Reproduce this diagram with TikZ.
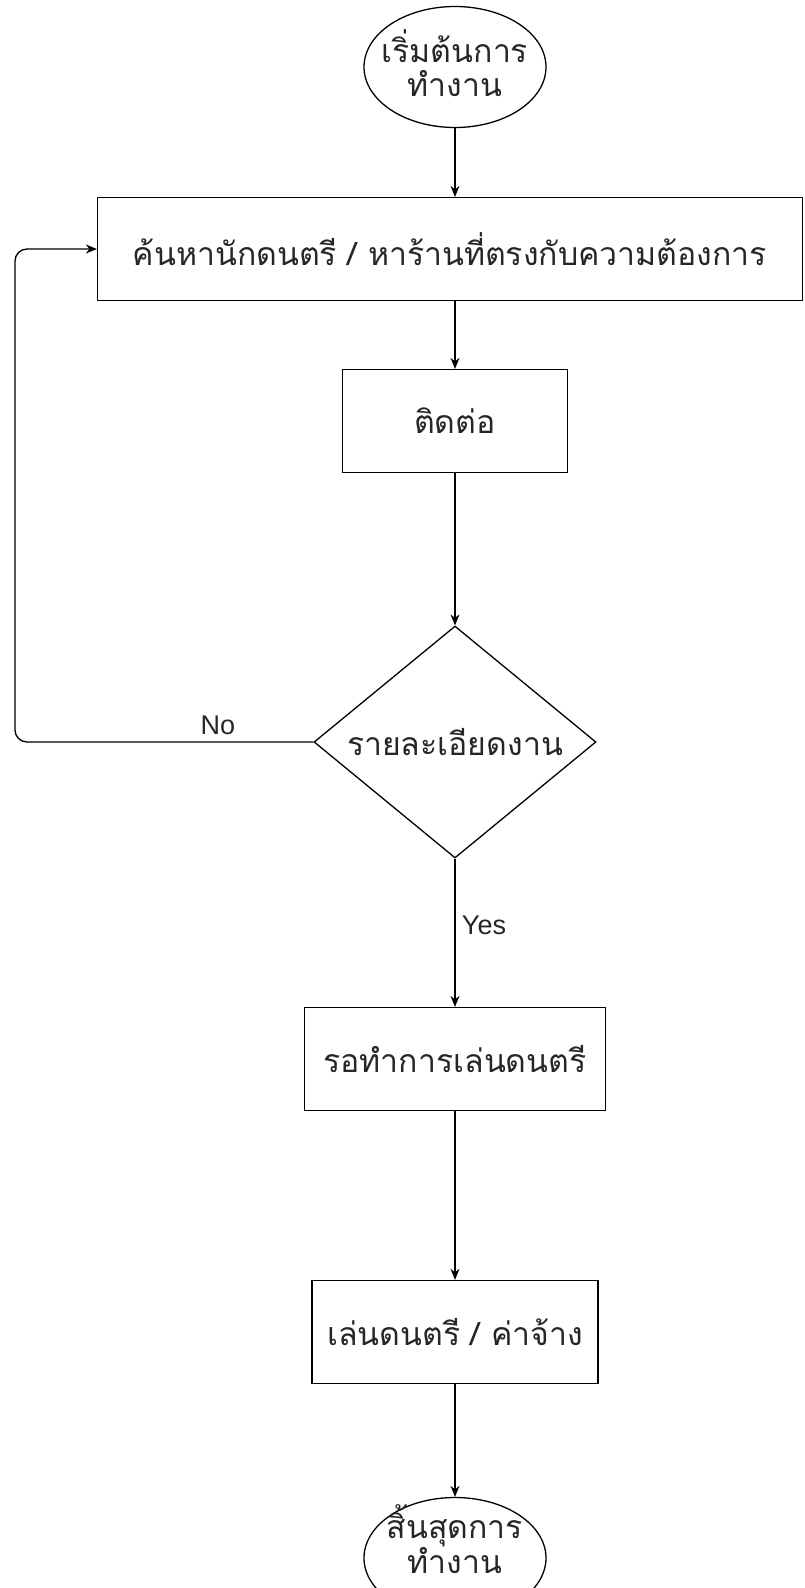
\documentclass[tikz,border=0pt]{standalone}
\usepackage{fontspec}
\setmainfont{Liberation Sans}
\newfontfamily\thaifont[Script=Thai]{Loma}
\usetikzlibrary{shapes.geometric,arrows.meta}
\begin{document}
\begin{tikzpicture}[x=1pt,y=-1pt,line cap=butt,line join=miter,>={Stealth[length=11pt,width=9pt]}]
\tikzset{box/.style={draw,line width=1.3pt,inner sep=0pt,minimum height=103pt,text=black!85,
  font=\thaifont\fontsize{32}{36}\selectfont},
oval/.style={box,ellipse,minimum width=182pt,minimum height=121pt},
txt/.style={font=\thaifont\fontsize{32}{34}\selectfont,text=black!85,align=center,inner sep=0pt},
lbl/.style={font=\fontsize{27}{30}\selectfont,text=black!85},
line/.style={line width=1.3pt}
}
\useasboundingbox (0,0) rectangle (804,1588);
\node[oval,label={[txt,yshift=4pt]center:เริ่มต้นการ\\ทำงาน}] (start) at (455,67) {};
\node[box,minimum width=705pt] (search) at (450,249) {ค้นหานักดนตรี / หาร้านที่ตรงกับความต้องการ};
\node[box,minimum width=225pt] (contact) at (455,421) {ติดต่อ};
\node[box,diamond,minimum width=282pt,minimum height=232pt,label={[txt]center:รายละเอียดงาน}] (detail) at (455,742) {};
\node[box,minimum width=301pt] (wait) at (455,1059) {รอทำการเล่นดนตรี};
\node[box,minimum width=286pt] (play) at (455,1332) {เล่นดนตรี / ค่าจ้าง};
\node[oval,label={[txt,yshift=19pt]center:สิ้นสุดการ\\ทำงาน}] (finish) at (455,1558) {};
\coordinate (bend) at (15,742);
\draw[line,->] (start.south) -- (start.south |- search.north);
\draw[line,->] (contact.north |- search.south) -- (contact.north);
\draw[line,->] (contact.south) -- (detail.north);
\draw[line,->,rounded corners=12pt] (detail.west) -- node[lbl,above=3pt,pos=0.32]{No} (bend) |- (search.west);
\draw[line,->] (detail.south) -- node[lbl,right=3pt,pos=0.45]{Yes} (wait.north);
\draw[line,->] (wait.south) -- (play.north);
\draw[line,->] (play.south) -- (finish.north);
\end{tikzpicture}
\end{document}
